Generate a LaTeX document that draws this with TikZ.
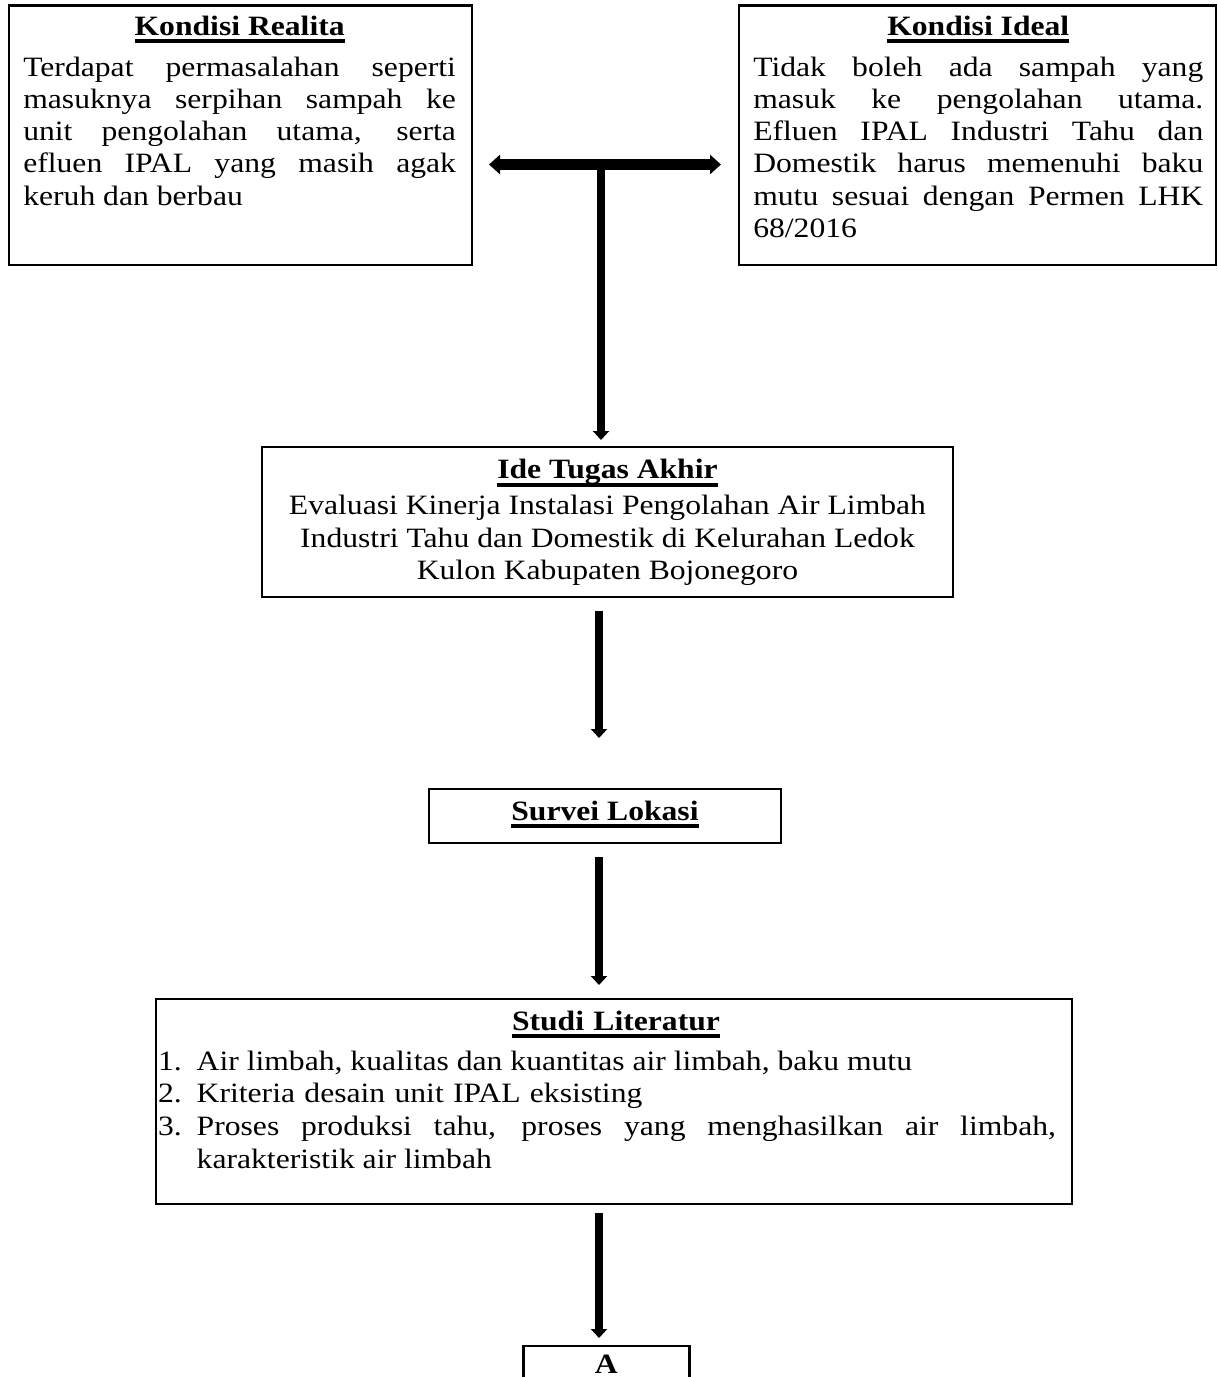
\documentclass[tikz,border=0pt]{standalone}
\usepackage{fontspec}
\setmainfont{Liberation Serif}[FakeStretch=1.13]
\usetikzlibrary{arrows.meta,calc}
\newsavebox\ulbox
\newcommand\myul[1]{\sbox\ulbox{#1}\rlap{\rule[-8pt]{\wd\ulbox}{3.6pt}}\usebox\ulbox}
\newcommand\jline[1]{\makebox[\linewidth][s]{\spaceskip=0pt\xspaceskip=0pt\relax #1}}
\newcommand\lline[1]{\makebox[\linewidth][l]{\spaceskip=0pt\xspaceskip=0pt\relax #1}}
\newcommand\cln[1]{\makebox[\linewidth][c]{\spaceskip=0pt\xspaceskip=0pt\relax #1}}
\newcommand\ttl[1]{\makebox[\linewidth][c]{\spaceskip=0pt\relax\bfseries\myul{#1}}}
\begin{document}
\begin{tikzpicture}[x=1pt,y=-1pt,
  box/.style={draw, line width=2.5pt, inner sep=0pt, outer sep=0pt, anchor=north west},
  txt/.style={inner sep=0pt, outer sep=0pt, anchor=base west, align=left,
    font=\fontsize{28}{32.2}\selectfont},
  txtc/.style={txt, anchor=base, align=center},
  varrow/.style={line width=8pt, -{Triangle[width=16pt,length=9pt]}},
  darrow/.style={line width=10.7pt,
    {Triangle[width=19pt,length=11pt]}-{Triangle[width=19pt,length=11pt]}},
]
\clip (0,0) rectangle (1218,1377);
\fill[white] (0,0) rectangle (1218,1377);

% boxes
\node[box, minimum width=463pt, minimum height=259.5pt] (kr) at (9,5.5) {};
\node[box, minimum width=477pt, minimum height=259.5pt] (ki) at (739,5.5) {};
\node[box, minimum width=691pt, minimum height=150pt] (ide) at (262,447) {};
\node[box, minimum width=352pt, minimum height=54pt] (sv) at (429,789) {};
\node[box, minimum width=916pt, minimum height=205pt] (sl) at (156,999) {};
\node[box, minimum width=166pt, minimum height=60pt] (a) at (523.3,1346) {};

% texts
\node[txt, text width=432.7pt] (krT) at (23.3,35) {\ttl{Kondisi Realita}\\[9pt]
\jline{Terdapat permasalahan seperti}\\
\jline{masuknya serpihan sampah ke}\\
\jline{unit pengolahan utama, serta}\\
\jline{efluen IPAL yang masih agak}\\
\lline{keruh dan berbau}};

\node[txt, text width=450pt] (kiT) at (753.3,35) {\ttl{Kondisi Ideal}\\[9pt]
\jline{Tidak boleh ada sampah yang}\\
\jline{masuk ke pengolahan utama.}\\
\jline{Efluen IPAL Industri Tahu dan}\\
\jline{Domestik harus memenuhi baku}\\
\jline{mutu sesuai dengan Permen LHK}\\
\lline{68/2016}};

\node[txt, text width=691pt, font=\fontsize{28}{32.5}\selectfont] (ideT) at (262,478.5)
{\ttl{Ide Tugas Akhir}\\[3.5pt]
\cln{Evaluasi Kinerja Instalasi Pengolahan Air Limbah}\\
\cln{Industri Tahu dan Domestik di Kelurahan Ledok}\\
\cln{Kulon Kabupaten Bojonegoro}};

\node[txt, text width=352pt] (svT) at (429,820) {\ttl{Survei Lokasi}};

\node[txt, text width=898pt, font=\fontsize{28}{32.7}\selectfont] (slT) at (158,1030)
{\makebox[\linewidth][c]{\hspace*{18pt}\bfseries\myul{Studi Literatur}}\\[7.3pt]
\makebox[38.7pt][l]{1.}\lline{Air limbah, kualitas dan kuantitas air limbah, baku mutu}\\
\makebox[38.7pt][l]{2.}Kriteria desain unit IPAL eksisting\\
\makebox[38.7pt][l]{3.}\makebox[859.3pt][s]{\spaceskip=0pt\xspaceskip=0pt\relax Proses produksi tahu, proses yang menghasilkan air limbah,}\\
\hspace*{38.7pt}\spaceskip=0pt karakteristik air limbah};

\node[txt, text width=166pt] (aT) at (523.3,1373.5) {\ttl{A}};

% connectors
\coordinate (jx) at (601,164.5);
\coordinate (cx) at (599,0);
\draw[darrow, shorten <=17pt, shorten >=18pt] (kr.east |- jx) -- (ki.west |- jx);
\draw[varrow, shorten >=7pt] (jx) -- (jx |- ide.north);
\draw[varrow, shorten <=14pt, shorten >=51pt] (cx |- ide.south) -- (cx |- sv.north);
\draw[varrow, shorten <=14pt, shorten >=14pt] (cx |- sv.south) -- (cx |- sl.north);
\draw[varrow, shorten <=9pt, shorten >=8pt] (cx |- sl.south) -- (cx |- a.north);
\end{tikzpicture}
\end{document}
